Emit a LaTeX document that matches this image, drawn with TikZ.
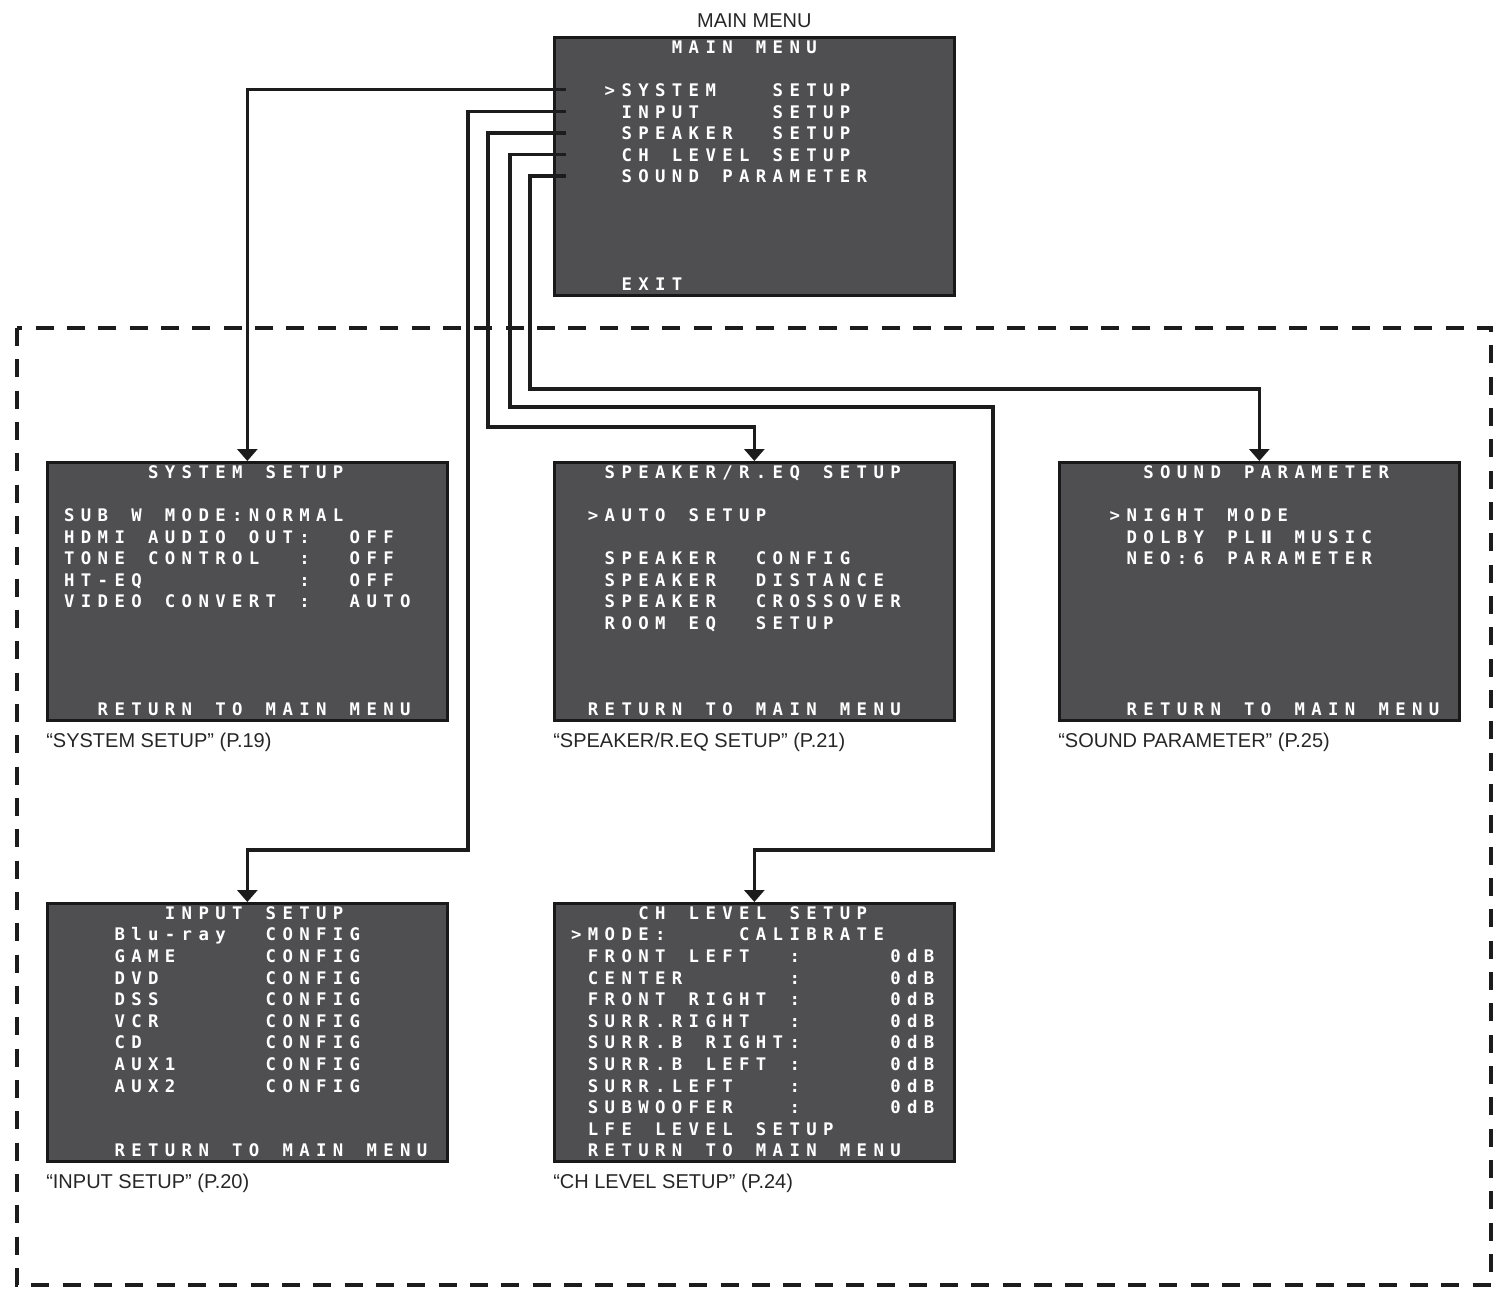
\documentclass[tikz,border=0pt]{standalone}
\usepackage{fontspec}
\usetikzlibrary{arrows.meta,calc,positioning}

\newfontfamily\scrmono{DejaVu Sans Mono}
\newfontfamily\scrsans{DejaVu Sans}
\newfontfamily\capfont{Liberation Sans}
\definecolor{scrgray}{RGB}{79,79,82}
\definecolor{inkgray}{RGB}{28,28,28}

% one fixed cell per character, like the on-screen display
\newlength\scrpitch
\setlength\scrpitch{12.6pt}
\makeatletter
\def\scrln#1{\leavevmode\unskip\scr@ln#1\relax}
\def\scr@ln#1{\ifx#1\relax\else\hbox to\scrpitch{#1\hss}\expandafter\scr@ln\fi}
\makeatother
\newcommand\scrfont{\scrmono\bfseries\fontsize{13pt}{16.2pt}\selectfont}
\newcommand\plii{{\scrsans\bfseries Ⅱ}}

\begin{document}
\begin{tikzpicture}[
  x=0.75pt, y=-0.75pt,
  screen/.style={draw=black!90, line width=2pt, fill=scrgray, text=white, anchor=north west, inner sep=0pt, text width=300pt, text height=12pt, text depth=181.5pt, align=left, font=\scrfont},
  caption/.style={font=\capfont\fontsize{15pt}{18pt}\selectfont, text=black!85, inner sep=0pt},
  link/.style={draw=inkgray, line width=2.5pt, -{Triangle[width=15pt,length=9pt]}},
  frame/.style={draw=inkgray, line width=2.6pt, dash pattern=on 13.5pt off 10pt}
]
  \useasboundingbox (0,0) rectangle (1493,1297);

  % Dashed frame round the sub menus
  \draw[frame] (17,328) rectangle (1491,1285);

  % MAIN MENU screen
  \node[screen] (main) at (553,36) {
    \scrln{~~~~~~~MAIN~MENU}\\
    \scrln{~}\\
    \scrln{~~~>SYSTEM~~~SETUP}\\
    \scrln{~~~~INPUT~~~~SETUP}\\
    \scrln{~~~~SPEAKER~~SETUP}\\
    \scrln{~~~~CH~LEVEL~SETUP}\\
    \scrln{~~~~SOUND~PARAMETER}\\
    \scrln{~}\\
    \scrln{~}\\
    \scrln{~}\\
    \scrln{~}\\
    \scrln{~~~~EXIT}
  };
  \node[caption, anchor=base] (maintitle) at ($(main.north)+(0,-9)$) {MAIN MENU};

  % SYSTEM SETUP screen
  \node[screen] (sys) at (46,461) {
    \scrln{~~~~~~SYSTEM~SETUP}\\
    \scrln{~}\\
    \scrln{~SUB~W~MODE:NORMAL}\\
    \scrln{~HDMI~AUDIO~OUT:~~OFF}\\
    \scrln{~TONE~CONTROL~~:~~OFF}\\
    \scrln{~HT-EQ~~~~~~~~~:~~OFF}\\
    \scrln{~VIDEO~CONVERT~:~~AUTO}\\
    \scrln{~}\\
    \scrln{~}\\
    \scrln{~}\\
    \scrln{~}\\
    \scrln{~~~RETURN~TO~MAIN~MENU}
  };
  \node[caption, anchor=base west] (capsys) at ($(sys.south west)+(0,26)$) {“SYSTEM SETUP”  (P.19)};

  % SPEAKER/R.EQ SETUP screen
  \node[screen] (spk) at (553,461) {
    \scrln{~~~SPEAKER/R.EQ~SETUP}\\
    \scrln{~}\\
    \scrln{~~>AUTO~SETUP}\\
    \scrln{~}\\
    \scrln{~~~SPEAKER~~CONFIG}\\
    \scrln{~~~SPEAKER~~DISTANCE}\\
    \scrln{~~~SPEAKER~~CROSSOVER}\\
    \scrln{~~~ROOM~EQ~~SETUP}\\
    \scrln{~}\\
    \scrln{~}\\
    \scrln{~}\\
    \scrln{~~RETURN~TO~MAIN~MENU}
  };
  \node[caption, anchor=base west] (capspk) at ($(spk.south west)+(0,26)$) {“SPEAKER/R.EQ SETUP”  (P.21)};

  % SOUND PARAMETER screen
  \node[screen] (snd) at (1058,461) {
    \scrln{~~~~~SOUND~PARAMETER}\\
    \scrln{~}\\
    \scrln{~~~>NIGHT~MODE}\\
    \scrln{~~~~DOLBY~PL\plii~MUSIC}\\
    \scrln{~~~~NEO:6~PARAMETER}\\
    \scrln{~}\\
    \scrln{~}\\
    \scrln{~}\\
    \scrln{~}\\
    \scrln{~}\\
    \scrln{~}\\
    \scrln{~~~~RETURN~TO~MAIN~MENU}
  };
  \node[caption, anchor=base west] (capsnd) at ($(snd.south west)+(0,26)$) {“SOUND PARAMETER”  (P.25)};

  % INPUT SETUP screen
  \node[screen] (inp) at (46,902) {
    \scrln{~~~~~~~INPUT~SETUP}\\
    \scrln{~~~~Blu-ray~~CONFIG}\\
    \scrln{~~~~GAME~~~~~CONFIG}\\
    \scrln{~~~~DVD~~~~~~CONFIG}\\
    \scrln{~~~~DSS~~~~~~CONFIG}\\
    \scrln{~~~~VCR~~~~~~CONFIG}\\
    \scrln{~~~~CD~~~~~~~CONFIG}\\
    \scrln{~~~~AUX1~~~~~CONFIG}\\
    \scrln{~~~~AUX2~~~~~CONFIG}\\
    \scrln{~}\\
    \scrln{~}\\
    \scrln{~~~~RETURN~TO~MAIN~MENU}
  };
  \node[caption, anchor=base west] (capinp) at ($(inp.south west)+(0,26)$) {“INPUT SETUP”  (P.20)};

  % CH LEVEL SETUP screen
  \node[screen] (ch) at (553,902) {
    \scrln{~~~~~CH~LEVEL~SETUP}\\
    \scrln{~>MODE:~~~~CALIBRATE}\\
    \scrln{~~FRONT~LEFT~~:~~~~~0dB}\\
    \scrln{~~CENTER~~~~~~:~~~~~0dB}\\
    \scrln{~~FRONT~RIGHT~:~~~~~0dB}\\
    \scrln{~~SURR.RIGHT~~:~~~~~0dB}\\
    \scrln{~~SURR.B~RIGHT:~~~~~0dB}\\
    \scrln{~~SURR.B~LEFT~:~~~~~0dB}\\
    \scrln{~~SURR.LEFT~~~:~~~~~0dB}\\
    \scrln{~~SUBWOOFER~~~:~~~~~0dB}\\
    \scrln{~~LFE~LEVEL~SETUP}\\
    \scrln{~~RETURN~TO~MAIN~MENU}
  };
  \node[caption, anchor=base west] (capch) at ($(ch.south west)+(0,26)$) {“CH LEVEL SETUP”  (P.24)};

  % Taps on the main menu items
  \coordinate (tapsys) at ($(main.north west)+(13,53.7)$);
  \coordinate (tapinp) at ($(main.north west)+(13,75.3)$);
  \coordinate (tapspk) at ($(main.north west)+(13,96.9)$);
  \coordinate (tapch)  at ($(main.north west)+(13,118.5)$);
  \coordinate (tapsnd) at ($(main.north west)+(13,140.1)$);

  % Connectors
  \draw[link] (tapsys) -| (sys.north);
  \draw[link] (tapinp) -| (468,850) -| (inp.north);
  \draw[link] (tapspk) -| (488,427) -| (spk.north);
  \draw[link] (tapch) -| (510,407) -| (993,850) -| (ch.north);
  \draw[link] (tapsnd) -| (530,389) -| (snd.north);

\end{tikzpicture}
\end{document}
